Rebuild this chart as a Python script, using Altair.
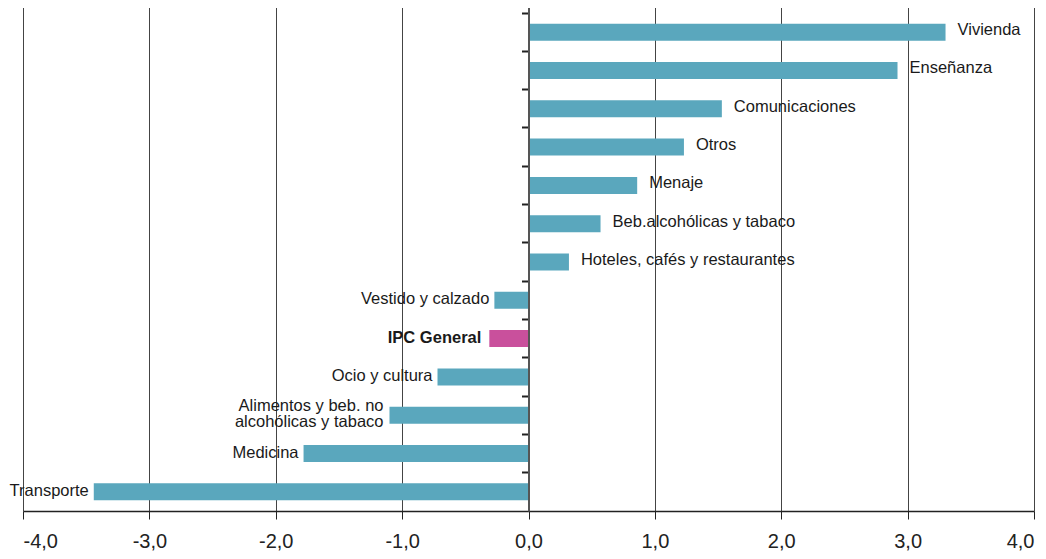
import altair as alt
import pandas as pd

categories = [
    "Vivienda", "Enseñanza", "Comunicaciones", "Otros", "Menaje",
    "Beb.alcohólicas y tabaco", "Hoteles, cafés y restaurantes",
    "Vestido y calzado", "IPC General", "Ocio y cultura",
    "Alimentos y beb. no\nalcohólicas y tabaco", "Medicina", "Transporte",
]
values = [3.30, 2.92, 1.53, 1.23, 0.86, 0.57, 0.32,
          -0.27, -0.31, -0.72, -1.10, -1.78, -3.44]
x_ticks = [-4, -3, -2, -1, 0, 1, 2, 3, 4]

df = pd.DataFrame({"cat": categories, "val": values})

FONT = "Liberation Sans"
TEAL = "#5AA7BD"
MAGENTA = "#C9509C"
W, H = 1011, 511

xs = alt.Scale(domain=[-4, 4], nice=False, zero=False)
ys = alt.Scale(domain=categories, paddingInner=0, paddingOuter=0.17, align=1)

x_axis = alt.Axis(
    values=x_ticks, grid=True, gridColor="#444", gridWidth=1,
    domainColor="#222", domainWidth=1.5, tickColor="#222", tickSize=8,
    labelFont=FONT, labelFontSize=20, labelColor="#222", labelPadding=12,
    labelExpr="(datum.value < 0 ? '-' : '') + replace(format(abs(datum.value), '.1f'), '.', ',')",
    title=None,
)
y_axis = alt.Axis(
    offset=-W / 2, labels=False, title=None, grid=False,
    domainColor="#555", domainWidth=2, tickColor="#222", tickWidth=2,
    tickSize=7, bandPosition=0, zindex=1,
)

base = alt.Chart(df)

bars = base.mark_bar(height=17).encode(
    x=alt.X("val:Q", scale=xs, axis=x_axis),
    y=alt.Y("cat:N", scale=ys, sort=categories, axis=y_axis),
    color=alt.condition(alt.datum.cat == "IPC General", alt.value(MAGENTA), alt.value(TEAL)),
)

txt_enc = dict(
    x=alt.X("val:Q", scale=xs),
    y=alt.Y("cat:N", scale=ys, sort=categories),
    text="cat:N",
)
common = dict(baseline="middle", font=FONT, fontSize=16.5, color="#1a1a1a",
              lineBreak="\n", lineHeight=16)
multi = "indexof(datum.cat, '\\n') >= 0"

pos_txt = base.transform_filter(alt.datum.val >= 0).mark_text(
    align="left", dx=12, dy=-2, **common
).encode(**txt_enc)

neg_txt = base.transform_filter(
    f"datum.val < 0 && datum.cat != 'IPC General' && !({multi})"
).mark_text(align="right", dx=-5, dy=-1, **common).encode(**txt_enc)

multi_txt = base.transform_filter(multi).mark_text(
    align="right", dx=-6, dy=-9, **common
).encode(**txt_enc)

ipc_txt = base.transform_filter(alt.datum.cat == "IPC General").mark_text(
    align="right", dx=-8, dy=-1, fontWeight="bold", **common
).encode(**txt_enc)

chart = alt.layer(bars, pos_txt, neg_txt, multi_txt, ipc_txt).properties(
    width=W, height=H,
    autosize=alt.AutoSizeParams(type="none"),
    padding={"left": 15, "top": -8, "right": 4, "bottom": 40},
).configure_view(stroke=None)

chart.save("out.html", embed_options={"renderer": "svg", "actions": False})
